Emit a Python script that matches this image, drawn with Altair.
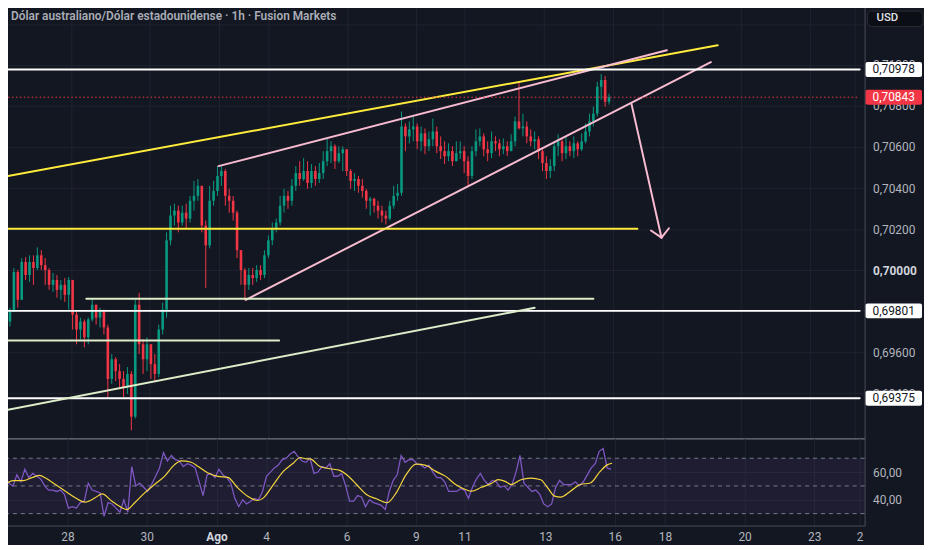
import altair as alt
import pandas as pd

# ---------------- data ----------------
first_open = 0.69749
close = [
0.69797, 0.69990, 0.69855, 0.70039, 0.69976, 0.70039, 0.70010, 0.70072, 0.70024, 0.70000,
0.69928, 0.69952, 0.69903, 0.69928, 0.69879, 0.69952, 0.69783, 0.69710, 0.69749, 0.69672,
0.69759, 0.69831, 0.69768, 0.69797, 0.69720, 0.69469, 0.69565, 0.69507, 0.69469, 0.69430,
0.69493, 0.69285, 0.69831, 0.69638, 0.69565, 0.69638, 0.69541, 0.69493, 0.69710, 0.69807,
0.70145, 0.70266, 0.70290, 0.70232, 0.70280, 0.70251, 0.70338, 0.70362, 0.70411, 0.70217,
0.70121, 0.70338, 0.70386, 0.70459, 0.70483, 0.70362, 0.70338, 0.70280, 0.70097, 0.70000,
0.69928, 0.69976, 0.69961, 0.70000, 0.69976, 0.70072, 0.70145, 0.70203, 0.70232, 0.70314,
0.70362, 0.70338, 0.70411, 0.70473, 0.70444, 0.70483, 0.70425, 0.70483, 0.70444, 0.70473,
0.70531, 0.70580, 0.70604, 0.70531, 0.70570, 0.70589, 0.70483, 0.70435, 0.70444, 0.70411,
0.70386, 0.70338, 0.70348, 0.70314, 0.70290, 0.70266, 0.70251, 0.70314, 0.70362, 0.70377,
0.70700, 0.70652, 0.70686, 0.70700, 0.70628, 0.70667, 0.70604, 0.70638, 0.70676, 0.70604,
0.70580, 0.70555, 0.70580, 0.70531, 0.70570, 0.70580, 0.70531, 0.70459, 0.70580, 0.70628,
0.70652, 0.70589, 0.70570, 0.70628, 0.70618, 0.70589, 0.70604, 0.70580, 0.70628, 0.70725,
0.70691, 0.70700, 0.70652, 0.70628, 0.70638, 0.70580, 0.70522, 0.70483, 0.70507, 0.70604,
0.70628, 0.70570, 0.70604, 0.70580, 0.70618, 0.70589, 0.70628, 0.70676, 0.70725, 0.70763,
0.70894, 0.70927, 0.70821, 0.70843]
high = [
0.69816, 0.70010, 0.70000, 0.70058, 0.70063, 0.70072, 0.70072, 0.70111, 0.70097, 0.70058,
0.70010, 0.69986, 0.69976, 0.69952, 0.69961, 0.69966, 0.69942, 0.69797, 0.69768, 0.69759,
0.69768, 0.69860, 0.69831, 0.69816, 0.69807, 0.69734, 0.69590, 0.69575, 0.69541, 0.69507,
0.69527, 0.69507, 0.69855, 0.69889, 0.69662, 0.69672, 0.69638, 0.69590, 0.69734, 0.69841,
0.70184, 0.70314, 0.70324, 0.70314, 0.70314, 0.70324, 0.70362, 0.70435, 0.70444, 0.70411,
0.70242, 0.70411, 0.70435, 0.70507, 0.70512, 0.70493, 0.70396, 0.70362, 0.70290, 0.70097,
0.70010, 0.70010, 0.70010, 0.70024, 0.70024, 0.70097, 0.70169, 0.70232, 0.70251, 0.70362,
0.70396, 0.70386, 0.70444, 0.70507, 0.70531, 0.70546, 0.70531, 0.70517, 0.70507, 0.70522,
0.70580, 0.70642, 0.70628, 0.70613, 0.70604, 0.70604, 0.70589, 0.70493, 0.70473, 0.70459,
0.70444, 0.70396, 0.70357, 0.70353, 0.70338, 0.70314, 0.70290, 0.70338, 0.70411, 0.70420,
0.70773, 0.70715, 0.70725, 0.70749, 0.70715, 0.70700, 0.70691, 0.70676, 0.70739, 0.70700,
0.70652, 0.70628, 0.70618, 0.70604, 0.70628, 0.70628, 0.70604, 0.70555, 0.70604, 0.70686,
0.70691, 0.70667, 0.70628, 0.70676, 0.70652, 0.70638, 0.70642, 0.70628, 0.70662, 0.70749,
0.70918, 0.70763, 0.70725, 0.70686, 0.70676, 0.70652, 0.70589, 0.70555, 0.70541, 0.70628,
0.70662, 0.70638, 0.70652, 0.70628, 0.70652, 0.70628, 0.70667, 0.70715, 0.70763, 0.70797,
0.70918, 0.70956, 0.70947, 0.70860]
low = [
0.69725, 0.69797, 0.69816, 0.69855, 0.69952, 0.69942, 0.69928, 0.70000, 0.70000, 0.69928,
0.69903, 0.69894, 0.69865, 0.69855, 0.69845, 0.69807, 0.69710, 0.69638, 0.69662, 0.69623,
0.69638, 0.69749, 0.69734, 0.69720, 0.69686, 0.69372, 0.69445, 0.69459, 0.69420, 0.69382,
0.69396, 0.69218, 0.69276, 0.69590, 0.69493, 0.69507, 0.69469, 0.69459, 0.69478, 0.69686,
0.69768, 0.70121, 0.70217, 0.70184, 0.70217, 0.70203, 0.70232, 0.70290, 0.70338, 0.70184,
0.69913, 0.70106, 0.70314, 0.70362, 0.70411, 0.70314, 0.70280, 0.70242, 0.70058, 0.69928,
0.69850, 0.69903, 0.69928, 0.69942, 0.69952, 0.69961, 0.70058, 0.70121, 0.70184, 0.70217,
0.70280, 0.70299, 0.70314, 0.70386, 0.70411, 0.70435, 0.70396, 0.70401, 0.70411, 0.70425,
0.70444, 0.70507, 0.70522, 0.70493, 0.70522, 0.70483, 0.70459, 0.70396, 0.70386, 0.70377,
0.70353, 0.70299, 0.70266, 0.70280, 0.70251, 0.70232, 0.70222, 0.70242, 0.70299, 0.70338,
0.70362, 0.70580, 0.70618, 0.70628, 0.70589, 0.70580, 0.70565, 0.70580, 0.70604, 0.70570,
0.70541, 0.70517, 0.70531, 0.70507, 0.70531, 0.70541, 0.70473, 0.70411, 0.70444, 0.70555,
0.70604, 0.70555, 0.70531, 0.70546, 0.70580, 0.70555, 0.70565, 0.70555, 0.70580, 0.70604,
0.70686, 0.70652, 0.70618, 0.70604, 0.70589, 0.70541, 0.70483, 0.70444, 0.70449, 0.70483,
0.70555, 0.70531, 0.70541, 0.70555, 0.70546, 0.70555, 0.70580, 0.70618, 0.70652, 0.70700,
0.70749, 0.70831, 0.70797, 0.70807]

rsi = [
55, 52, 50, 58, 53, 62, 56, 59, 57, 55,
50, 47, 47, 46, 47, 44, 34, 35, 34, 38,
39, 52, 47, 46, 45, 28, 38, 37, 34, 31,
40, 31, 64, 50, 52, 49, 46, 51, 57, 63,
74, 68, 72, 69, 68, 64, 66, 65, 63, 53,
43, 58, 59, 56, 62, 58, 56, 52, 41, 35,
40, 37, 39, 41, 40, 46, 57, 60, 63, 65,
69, 70, 73, 75, 71, 68, 67, 70, 59, 60,
64, 63, 66, 57, 57, 59, 50, 39, 39, 43,
42, 35, 40, 38, 37, 36, 33, 46, 54, 58,
72, 67, 69, 69, 66, 65, 63, 65, 60, 56,
56, 53, 46, 46, 46, 48, 47, 41, 49, 55,
59, 54, 51, 54, 53, 49, 50, 47, 51, 60,
72, 52, 49, 46, 47, 44, 37, 35, 37, 49,
54, 51, 51, 51, 53, 50, 53, 58, 63, 66,
75, 77, 63, 62]

ma_pos = [-0.5, 2, 4.5, 7, 8.75, 10.25, 12.75, 15.25, 17.75, 20.25,
          22.75, 24.5, 27, 29.5, 30.75, 32.75, 35.25, 37.75, 40.25, 42.75,
          44.5, 47, 48.75, 51.25, 53.75, 56.25, 58.75, 61.25, 63.75, 65.25,
          67.75, 70.25, 72.75, 74.5, 76.25, 77, 79.5, 82, 84.5, 86.25,
          88.75, 91.25, 93.75, 96.5, 98.75, 101.25, 103.75, 106.25, 108.75, 111.25,
          113.75, 116.25, 117.75, 120.25, 122.75, 124.5, 126.25, 127.75, 130.25, 132.75,
          135.25, 137, 138.75, 140.25, 142.75, 145.25, 147.75, 150.25, 152, 153.25]
ma_val = [49.8, 53.8, 53.8, 56.2, 57.6, 55.7, 51.0, 46.2, 41.4, 38.3,
          41.4, 44.3, 39.0, 34.3, 32.9, 37.9, 45.0, 51.0, 56.9, 65.2,
          68.1, 67.1, 64.0, 59.3, 56.9, 56.2, 48.6, 42.6, 39.5, 41.4,
          51.0, 60.5, 66.4, 70.5, 69.5, 69.5, 64.0, 62.4, 61.2, 58.1,
          51.0, 43.8, 40.7, 37.9, 45.0, 58.1, 65.7, 64.8, 60.5, 56.9,
          51.0, 47.4, 46.2, 49.0, 51.7, 54.5, 53.3, 51.0, 54.5, 55.7,
          54.5, 48.6, 42.6, 41.9, 46.2, 51.0, 52.1, 60.5, 65.2, 66.4]

x_tick_pos = [15.75, 35.75, 53.4, 65.9, 86.2, 103.7, 116, 136.4, 153.9, 166.6, 186.7, 204.3, 215.75]
x_tick_lab = ['28', '30', 'Ago', '4', '6', '9', '11', '13', '16', '18', '20', '23', '2']
month_tick = 53.4

price_ticks = [0.694, 0.696, 0.698, 0.700, 0.702, 0.704, 0.706, 0.708, 0.710, 0.712]
rsi_ticks = [40, 60]
rsi_levels = [30, 50, 70]
rsi_band = [30, 70]

# drawings (trend lines / levels) in bar index and price
seg_kind = ['yellow', 'pink', 'pink', 'pink', 'pink', 'pink', 'white', 'white', 'white',
            'yellow', 'green', 'green', 'green']
seg_x = [-0.5, 53.25, 60.25, 158.7, 163.7, 168.3, -0.5, -0.5, -0.5, -0.5, 19.5, -0.5, -0.5]
seg_x2 = [180.75, 167.75, 179.0, 166.4, 166.4, 166.4, 217, 217, 217, 160.25, 149.0, 68.75, 134.0]
seg_y = [0.70459, 0.70507, 0.69855, 0.70813, 0.70193, 0.70204, 0.70978, 0.69801, 0.69375,
         0.70202, 0.69860, 0.69657, 0.69319]
seg_y2 = [0.71096, 0.71072, 0.71014, 0.70158, 0.70158, 0.70158, 0.70978, 0.69801, 0.69375,
          0.70202, 0.69860, 0.69657, 0.69816]

last_price = 0.70843
box_price = [0.70978, 0.70843, 0.69801, 0.69375]
box_kind = ['white', 'red', 'white', 'white']

title_text = 'Dólar australiano/Dólar estadounidense · 1h · Fusion Markets'
currency = 'USD'

# ---------------- styling ----------------
BG = '#131722'
GRID = '#1f2330'
UP = '#089981'
DOWN = '#f23645'
LABEL = '#b2b5be'
SEP = '#4a4e59'
FONT = 'Roboto'
W = 870
H_MAIN = 440
H_RSI = 88

opens = [first_open] + close[:-1]
cdf = pd.DataFrame({'bar': list(range(len(close))), 'open': opens, 'close': close,
                    'high': high, 'low': low})
rdf = pd.DataFrame({'bar': list(range(len(rsi))), 'rsi': rsi})
mdf = pd.DataFrame({'pos': ma_pos, 'ma': ma_val})
sdf = pd.DataFrame({'kind': seg_kind, 'x': seg_x, 'x2': seg_x2, 'y': seg_y, 'y2': seg_y2})
ldf = pd.DataFrame({'x': [-0.5], 'x2': [217], 'y': [last_price]})
bdf = pd.DataFrame({'p': box_price, 'kind': box_kind,
                    'lab': [f'{p:.5f}'.replace('.', ',') for p in box_price]})

xs = alt.Scale(domain=[-0.5, 217], nice=False, zero=False)
ys = alt.Scale(domain=[0.69179, 0.71304], nice=False, zero=False)
rs = alt.Scale(domain=[21.4, 84.3], nice=False, zero=False)

lab_expr_x = ("[" + ",".join(f"'{l}'" for l in x_tick_lab) + "][indexof(["
              + ",".join(str(p) for p in x_tick_pos) + "], datum.value)]")

XAX_MAIN = alt.Axis(values=x_tick_pos, labels=False, ticks=False, grid=True, gridColor=GRID,
                    domain=True, domainColor='#8b8e97', domainWidth=1, title=None, orient='bottom')
YAX_MAIN = alt.Axis(values=price_ticks, orient='right', ticks=False, tickSize=0, labelPadding=8,
                    labelExpr="datum.value > 0.7115 ? '' : replace(format(datum.value, '.5f'), '.', ',')",
                    grid=True, gridColor=GRID, domain=True, domainColor=SEP, title=None,
                    labelFontSize=12, labelColor={"condition": {"test": "abs(datum.value - 0.7) < 1e-9", "value": "#d1d4dc"}, "value": LABEL},
                    labelFontWeight={"condition": {"test": "abs(datum.value - 0.7) < 1e-9", "value": "bold"}, "value": "normal"})
XAX_RSI = alt.Axis(values=x_tick_pos, labelExpr=lab_expr_x, ticks=False, tickSize=0, grid=True,
                   gridColor=GRID, domain=True, domainColor=SEP, title=None, orient='bottom',
                   labelPadding=6, labelFontSize=12, labelOverlap=False,
                   labelColor={"condition": {"test": f"datum.value == {month_tick}", "value": "#d1d4dc"}, "value": LABEL},
                   labelFontWeight={"condition": {"test": f"datum.value == {month_tick}", "value": "bold"}, "value": "normal"})
YAX_RSI = alt.Axis(values=rsi_ticks, orient='right', ticks=False, tickSize=0, labelPadding=8,
                   labelExpr="replace(format(datum.value, '.2f'), '.', ',')",
                   grid=True, gridColor=GRID, domain=True, domainColor=SEP, title=None,
                   labelFontSize=12, labelColor=LABEL)

X = lambda f: alt.X(f, scale=xs, axis=XAX_MAIN)
Y = lambda f: alt.Y(f, scale=ys, axis=YAX_MAIN)

candle_color = alt.condition("datum.close >= datum.open", alt.value(UP), alt.value(DOWN))

wick = alt.Chart(cdf).mark_rule(strokeWidth=1).encode(
    x=X('bar:Q'), y=Y('low:Q'), y2='high:Q', color=candle_color)
body = alt.Chart(cdf).mark_bar(size=2.6).encode(
    x=X('bar:Q'), y=Y('open:Q'), y2='close:Q', color=candle_color)

lines = alt.Chart(sdf).mark_rule(strokeWidth=2, strokeCap='round').encode(
    x=X('x:Q'), x2='x2:Q', y=Y('y:Q'), y2='y2:Q',
    color=alt.Color('kind:N', legend=None,
                    scale=alt.Scale(domain=['yellow', 'pink', 'white', 'green'],
                                    range=['#ffeb3b', '#f8bbd0', '#ffffff', '#dcedc8'])))

last_line = alt.Chart(ldf).mark_rule(strokeWidth=1, strokeDash=[1.5, 2.5], color=DOWN).encode(
    x=X('x:Q'), x2='x2:Q', y=Y('y:Q'))

box_fill = alt.condition("datum.kind == 'red'", alt.value(DOWN), alt.value('#ffffff'))
box_text = alt.condition("datum.kind == 'red'", alt.value('#ffffff'), alt.value('#131722'))
boxes = alt.Chart(bdf).mark_rect(yOffset=-7.5, y2Offset=7.5, cornerRadius=2).encode(
    x=alt.value(W + 1), x2=alt.value(W + 58), y=Y('p:Q'), y2='p:Q', fill=box_fill)
box_labels = alt.Chart(bdf).mark_text(align='left', baseline='middle', fontSize=12, font=FONT).encode(
    x=alt.value(W + 8), y=Y('p:Q'), text='lab:N', color=box_text)

usd_df = pd.DataFrame({'t': [currency]})
usd_box = alt.Chart(usd_df).mark_rect(cornerRadius=4, fill='#0c0e15', stroke='#2a2e39', strokeWidth=1).encode(
    x=alt.value(W + 3), x2=alt.value(W + 59), y=alt.value(8.5), y2=alt.value(24))
usd_text = alt.Chart(usd_df).mark_text(align='left', baseline='middle', fontSize=11.5, font=FONT,
                                        fontWeight=500, color='#e1e3ea').encode(
    x=alt.value(W + 12), y=alt.value(15.5), text='t:N')

title_df = pd.DataFrame({'t': [title_text]})
title = alt.Chart(title_df).mark_text(align='left', baseline='middle', fontSize=12, font=FONT,
                                      fontWeight=600, color='#a9acb5').encode(
    x=alt.value(8), y=alt.value(13), text='t:N')

main = alt.layer(wick, body, lines, last_line, boxes, box_labels, usd_box, usd_text, title).properties(
    width=W, height=H_MAIN)

RX = lambda f: alt.X(f, scale=xs, axis=XAX_RSI)
RY = lambda f: alt.Y(f, scale=rs, axis=YAX_RSI)

band = alt.Chart(pd.DataFrame({'lo': [rsi_band[0]], 'hi': [rsi_band[1]]})).mark_rect(
    color='#7e57c2', opacity=0.1).encode(y=RY('lo:Q'), y2='hi:Q')
levels = alt.Chart(pd.DataFrame({'lv': rsi_levels})).mark_rule(
    color='#787b86', strokeDash=[4, 4], strokeWidth=1).encode(y=RY('lv:Q'))
rsi_line = alt.Chart(rdf).mark_line(color='#7e57c2', strokeWidth=1.3).encode(
    x=RX('bar:Q'), y=RY('rsi:Q'))
ma_line = alt.Chart(mdf).mark_line(color='#f5d63d', strokeWidth=1.2, interpolate='monotone').encode(
    x=RX('pos:Q'), y=RY('ma:Q'))

rsi_panel = alt.layer(band, levels, rsi_line, ma_line).properties(width=W, height=H_RSI)

chart = alt.vconcat(main, rsi_panel, spacing=0).properties(
    padding={"left": -8, "top": -8, "right": 0, "bottom": 0}, background=BG
).configure_view(stroke=None).configure_axis(labelFont=FONT, labelColor=LABEL).configure_text(font=FONT)

chart.save("out.html", embed_options={"renderer": "svg", "actions": False})
